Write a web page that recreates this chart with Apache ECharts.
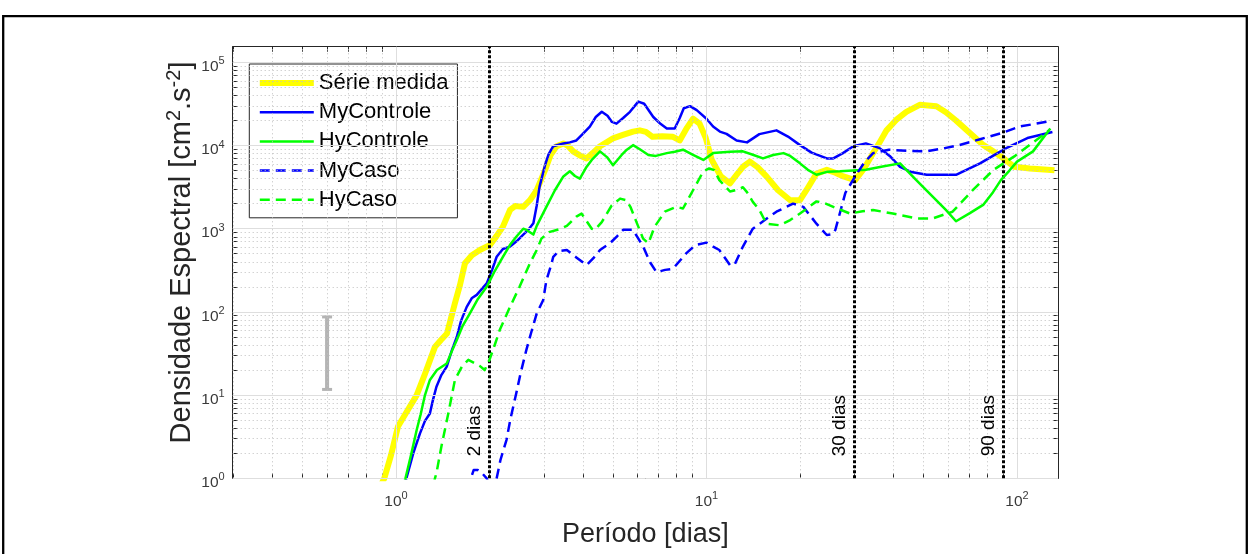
<!DOCTYPE html>
<html>
<head>
<meta charset="utf-8">
<script src="https://cdn.jsdelivr.net/npm/echarts@6/dist/echarts.min.js"></script>
<style>
  html, body { margin: 0; padding: 0; background: #ffffff; }
  #chart { width: 1248px; height: 554px; }
</style>
</head>
<body>
<div id="chart"></div>
<script>
// Spectral density curves: [period (days), density (cm^2.s^-2)]
const serieMedida = [[0.89,0.8],[0.917,1.0],[0.964,1.9],[1.015,4.2],[1.069,5.8],[1.166,10],[1.24,18],[1.335,38],[1.396,46],[1.46,55],[1.548,127],[1.607,210],[1.668,384],[1.756,480],[1.863,555],[2.01,640],[2.11,820],[2.21,1060],[2.33,1680],[2.42,1870],[2.57,1830],[2.7,2200],[2.84,2900],[3.02,5050],[3.15,7740],[3.29,9800],[3.46,10600],[3.58,9900],[3.72,8500],[3.91,7600],[4.11,7000],[4.3,8100],[4.54,9800],[4.78,11000],[5.0,12200],[5.38,13400],[5.8,14700],[6.1,15200],[6.38,14600],[6.7,12700],[7.2,12900],[7.8,12700],[8.2,11500],[8.65,16300],[9.05,21000],[9.5,18300],[9.94,12400],[10.4,6700],[11.1,4300],[11.9,3500],[12.5,4450],[13.1,5550],[13.8,6400],[14.6,5500],[15.6,4250],[17,2900],[18.6,2200],[20,2200],[21.2,3100],[22.6,4600],[24.4,5100],[26,4700],[27.6,4250],[30.1,3840],[32.2,5300],[34.4,8100],[36.2,11100],[38,15200],[40.8,20300],[44,25400],[48.6,30800],[55,29600],[59,25100],[63.6,20000],[70.5,14100],[78,10100],[88.7,7400],[98,5550],[110,5300],[132,5050]];

const myControle = [[1.069,0.85],[1.08,1.0],[1.14,2.07],[1.195,3.47],[1.24,4.9],[1.286,6.0],[1.315,8.7],[1.35,12.6],[1.4,17.4],[1.457,22],[1.515,35],[1.57,50],[1.62,78],[1.69,115],[1.757,147],[1.82,160],[1.96,220],[2.04,320],[2.11,460],[2.21,570],[2.33,610],[2.45,710],[2.57,850],[2.66,960],[2.77,1160],[2.84,1900],[2.9,3200],[3.02,5800],[3.1,7800],[3.21,9800],[3.46,10600],[3.63,10900],[3.81,11500],[3.99,13700],[4.21,16900],[4.4,22000],[4.6,25400],[4.8,22800],[4.96,19200],[5.13,18300],[5.39,21400],[5.67,25400],[6.03,33700],[6.3,31800],[6.74,22000],[7.09,18400],[7.45,16000],[7.9,16000],[8.2,21400],[8.45,28000],[8.85,29700],[9.3,26600],[10.0,21000],[10.5,16900],[11.04,14700],[11.6,13800],[12.5,11500],[13.5,10900],[14.8,13700],[16.8,15200],[18.3,12800],[20,10100],[21.8,8200],[24.4,7000],[25.6,7000],[27.5,8100],[29.7,9800],[32.6,10600],[36.1,9300],[38.9,7500],[42,5550],[45.7,4800],[51.2,4450],[63.6,4450],[76,6100],[92.3,9300],[108,12300],[130,14500]];

const hyControle = [[1.06,0.85],[1.073,1.0],[1.118,1.9],[1.166,3.8],[1.2,5.8],[1.24,10],[1.286,15.2],[1.355,20],[1.457,24],[1.515,34],[1.57,46],[1.64,68],[1.73,96],[1.836,143],[1.96,200],[2.08,310],[2.21,460],[2.33,640],[2.44,800],[2.57,1000],[2.64,960],[2.77,850],[2.84,1080],[3.05,1830],[3.25,2900],[3.46,4250],[3.63,4900],[3.77,4300],[3.91,4000],[4.09,5400],[4.27,6700],[4.54,8500],[4.78,7250],[5.0,5800],[5.33,7700],[5.54,8900],[5.8,10100],[6.1,9000],[6.5,7700],[6.87,7500],[7.45,8100],[7.9,8400],[8.4,8900],[9.05,7700],[9.77,6700],[10.5,8100],[11.9,8400],[13.1,8500],[14.1,7750],[15.2,7000],[16.4,7700],[17.7,8100],[18.6,7500],[20,6100],[21.2,5100],[22.6,4450],[24.6,4850],[26.9,4900],[29.6,5000],[32.6,5100],[36.9,5600],[42,6100],[47.3,3850],[53.5,2430],[59,1680],[63.6,1230],[70.5,1540],[78,1950],[83.7,2750],[88.7,3840],[94.5,5000],[100,6400],[112.6,8500],[128,16000]];

const myCaso = [[1.7,0.72],[1.75,1.05],[1.78,1.26],[1.835,1.26],[1.89,1.16],[1.96,1.0],[2.0,0.8],[2.07,0.72],[2.11,1.0],[2.17,1.66],[2.27,2.9],[2.34,5.3],[2.44,10.5],[2.52,18.4],[2.63,35],[2.72,55],[2.84,96],[2.98,139],[3.05,240],[3.16,365],[3.21,460],[3.35,540],[3.55,555],[3.8,455],[4.11,365],[4.33,445],[4.54,555],[4.88,665],[5.15,810],[5.39,970],[5.8,970],[6.25,610],[6.58,395],[6.9,300],[7.36,320],[7.8,330],[8.6,505],[9.2,635],[10,680],[10.5,610],[11,555],[11.9,365],[12.3,365],[13.1,610],[14.1,1000],[15.4,1270],[16.8,1600],[19,2000],[20.5,1830],[22.6,1150],[24.4,840],[25.5,860],[26,970],[28,2700],[30.5,4600],[32.3,6300],[34.4,8100],[38.7,8900],[45,8600],[51.2,8500],[58.5,9300],[65,10100],[76,11900],[88.7,14000],[102,16900],[130,19800]];

const hyCaso = [[1.325,0.83],[1.335,1.0],[1.35,1.15],[1.4,2.4],[1.474,6.0],[1.548,15.2],[1.63,22],[1.71,26.5],[1.8,24],[1.865,22.3],[1.93,20],[2.0,26.5],[2.08,40],[2.16,61],[2.33,115],[2.5,200],[2.7,384],[2.84,555],[2.94,760],[3.11,910],[3.37,990],[3.55,1080],[3.81,1400],[3.96,1520],[4.09,1270],[4.27,1000],[4.37,970],[4.6,1200],[4.95,1900],[5.27,2300],[5.52,2200],[5.7,1800],[5.95,1200],[6.25,760],[6.5,665],[6.8,1050],[7.34,1600],[8.0,1830],[8.4,1750],[9.05,2900],[9.77,4900],[10.2,5300],[10.6,5050],[11,3840],[11.9,2800],[12.4,2900],[13.1,3150],[13.5,2750],[14.1,2100],[14.8,1680],[15.6,1150],[17.2,1100],[18.6,1270],[20,1520],[22.6,2130],[24.2,2000],[25.6,1830],[29,1520],[31.8,1620],[34.4,1680],[39.8,1520],[47.5,1330],[53.5,1330],[62,1600],[72,2900],[84,5100],[98,7400],[113,11000],[127,15200]];

// 95% confidence interval bar
const intervaloConfianca = [[0.6, 11.7], [0.6, 87]];

// Reference periods marked with vertical lines
const periodosRef = [2, 30, 90];
const periodosRotulos = ['2 dias', '30 dias', '90 dias'];

// Axis ranges and labelled decades
const xRange = [0.298, 135.5];
const yRange = [1, 154000];
const xDecadas = [1, 10, 100];
const yDecadas = [1, 10, 100, 1000, 10000, 100000];

const FONT = '"Liberation Sans", Arial, Helvetica, sans-serif';
const AXIS_COLOR = '#262626';

// 1..9 x 10^k steps inside a range (log grid and tick positions)
function logSteps(lo, hi) {
  const out = [];
  for (let e = Math.floor(Math.log10(lo)); e <= Math.ceil(Math.log10(hi)); e++) {
    for (let m = 1; m <= 9; m++) {
      const v = +(m * Math.pow(10, e)).toPrecision(6);
      if (v >= lo * 0.999 && v <= hi * 1.001) out.push(v);
    }
  }
  return out;
}
const isDecade = v => Math.abs(Math.log10(v) - Math.round(Math.log10(v))) < 1e-6;

const xSteps = logSteps(xRange[0], xRange[1]);
const ySteps = logSteps(yRange[0], yRange[1]);

const powLabel = v => isDecade(v) ? '{b|10}{e|' + Math.round(Math.log10(v)) + '}' : '';
const powRich = {
  b: { fontSize: 15.5, color: '#3a3a3a', fontFamily: FONT, lineHeight: 19, verticalAlign: 'bottom' },
  e: { fontSize: 11, color: '#3a3a3a', fontFamily: FONT, lineHeight: 12, verticalAlign: 'top' }
};

function logAxis(dim, position, range, steps, decades, showLabels, extra) {
  return Object.assign({
    type: 'log',
    logBase: 10,
    position: position,
    min: range[0],
    max: range[1],
    axisLine: { show: true, onZero: false, lineStyle: { color: AXIS_COLOR, width: 1 } },
    axisTick: { show: true, inside: true, length: 5, customValues: steps, lineStyle: { color: AXIS_COLOR, width: 1 } },
    axisLabel: showLabels ? {
      show: true, customValues: decades, formatter: powLabel, rich: powRich,
      fontSize: 15.5, color: '#3a3a3a',
      margin: dim === 'x' ? 12 : 8,
      padding: dim === 'x' ? 0 : [6, 0, 0, 0]
    } : { show: false },
    splitLine: { show: false },
    minorTick: { show: false },
    minorSplitLine: { show: false }
  }, extra || {});
}

// Grid lines: solid at decades, dotted at intermediate steps
function gridLines(dimKey, steps) {
  return steps.map(v => ({
    [dimKey]: v,
    lineStyle: isDecade(v)
      ? { color: '#dedede', width: 1, type: 'solid' }
      : { color: '#bfbfbf', width: 1, type: [1, 3] }
  }));
}

function curve(name, data, color, width, dashed, z) {
  return {
    name: name, type: 'line', data: data, z: z,
    symbol: 'none', showSymbol: false, smooth: false, clip: true,
    lineStyle: { color: color, width: width, type: dashed ? [10, 6] : 'solid', cap: 'butt', join: 'round' },
    itemStyle: { color: color },
    emphasis: { disabled: true },
    animation: false
  };
}

const chart = echarts.init(document.getElementById('chart'), null, { renderer: 'canvas' });

chart.setOption({
  backgroundColor: '#ffffff',
  animation: false,
  textStyle: { fontFamily: FONT },
  graphic: [{
    type: 'rect', silent: true, z: 0,
    shape: { x: 3.2, y: 16.2, width: 1243.6, height: 620 },
    style: { fill: 'none', stroke: '#000000', lineWidth: 2.3 }
  }],
  grid: { left: 232.7, right: 190, top: 46.7, bottom: 75.7, containLabel: false },
  legend: {
    orient: 'vertical',
    left: 249.3, top: 64,
    padding: [8, 9, 7, 7.5],
    itemGap: 7.2,
    itemWidth: 54, itemHeight: 14,
    backgroundColor: '#ffffff',
    borderColor: AXIS_COLOR, borderWidth: 1, borderRadius: 0,
    selectedMode: false,
    itemStyle: { color: 'rgba(0,0,0,0)', borderWidth: 0, opacity: 0 },
    textStyle: { fontSize: 22, color: '#000000', fontFamily: FONT },
    data: [
      { name: 'Série medida', lineStyle: { width: 6 } },
      { name: 'MyControle', lineStyle: { width: 2.5 } },
      { name: 'HyControle', lineStyle: { width: 2.5 } },
      { name: 'MyCaso', lineStyle: { width: 2.5 } },
      { name: 'HyCaso', lineStyle: { width: 2.5 } }
    ]
  },
  xAxis: [
    logAxis('x', 'bottom', xRange, xSteps, xDecadas, true, {
      name: 'Período [dias]', nameLocation: 'middle', nameGap: 43,
      nameTextStyle: { fontSize: 27, color: AXIS_COLOR, fontFamily: FONT }
    }),
    logAxis('x', 'top', xRange, xSteps, xDecadas, false)
  ],
  yAxis: [
    logAxis('y', 'left', yRange, ySteps, yDecadas, true, {
      name: 'Densidade Espectral [cm{s|2}.s{s|-2}]', nameLocation: 'middle', nameGap: 34, nameRotate: 90,
      nameMoveOverlap: false,
      nameTextStyle: {
        fontSize: 29, color: AXIS_COLOR, fontFamily: FONT, lineHeight: 34, verticalAlign: 'bottom',
        padding: [0, 0, 0, 20],
        rich: { s: { fontSize: 20, color: AXIS_COLOR, fontFamily: FONT, lineHeight: 22, verticalAlign: 'top' } }
      }
    }),
    logAxis('y', 'right', yRange, ySteps, yDecadas, false)
  ],
  series: [
    {
      // grid lines drawn behind the curves
      name: 'grade', type: 'line', data: [], z: 1, silent: true, animation: false,
      markLine: {
        silent: true, symbol: ['none', 'none'], animation: false,
        label: { show: false },
        data: gridLines('xAxis', xSteps).concat(gridLines('yAxis', ySteps))
      }
    },
    {
      name: 'intervalo', type: 'line', data: intervaloConfianca, z: 2, silent: true,
      symbol: 'rect', symbolSize: [10, 3], showSymbol: true,
      lineStyle: { color: '#b4b4b4', width: 4 }, itemStyle: { color: '#b4b4b4' },
      emphasis: { disabled: true }, animation: false
    },
    curve('Série medida', serieMedida, '#ffff00', 6, false, 3),
    curve('MyControle', myControle, '#0000ff', 2.5, false, 4),
    curve('HyControle', hyControle, '#00ff00', 2.5, false, 5),
    curve('MyCaso', myCaso, '#0000ff', 2.5, true, 6),
    curve('HyCaso', hyCaso, '#00ff00', 2.5, true, 7),
    {
      // reference periods, drawn over the curves
      name: 'periodos', type: 'line', data: [], z: 10, silent: true, animation: false,
      markLine: {
        silent: true, symbol: ['none', 'none'], animation: false,
        lineStyle: { color: '#000000', width: 3, type: [3, 2], cap: 'butt' },
        label: {
          show: true, position: 'insideStartTop', distance: [22, 5],
          fontSize: 19, color: '#000000', fontFamily: FONT, formatter: '{b}'
        },
        data: periodosRef.map((p, i) => ({ xAxis: p, name: periodosRotulos[i] }))
      }
    }
  ]
});
</script>
</body>
</html>
